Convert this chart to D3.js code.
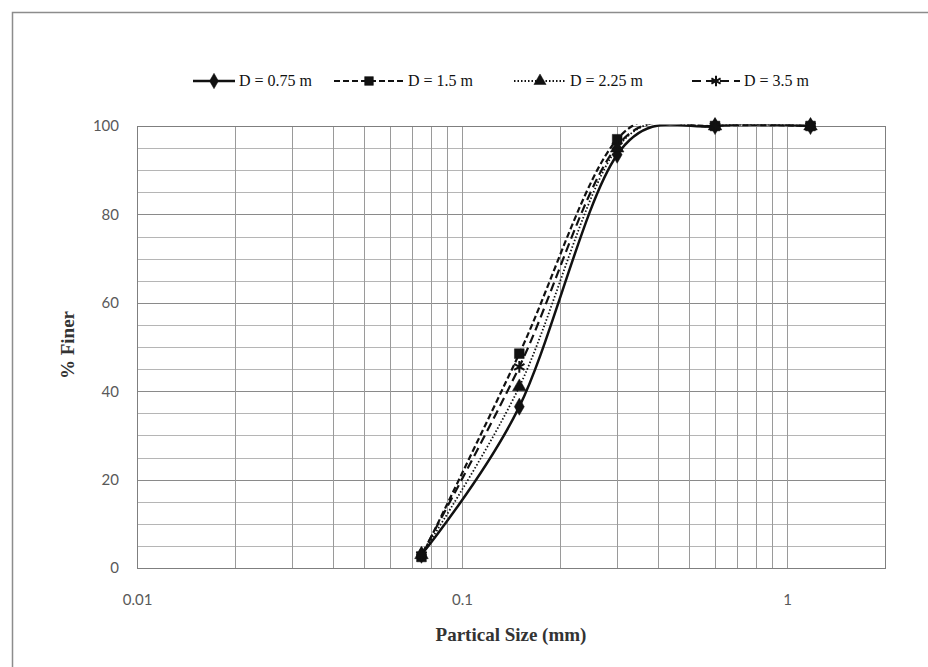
<!DOCTYPE html>
<html>
<head>
<meta charset="utf-8">
<script src="https://cdn.jsdelivr.net/npm/d3@7"></script>
<style>
  body { margin: 0; background: #fff; }
  svg { display: block; }
</style>
</head>
<body>
<svg id="chart" width="928" height="667"></svg>
<script>
// sieve sizes (mm) and % finer for each depth
const sizes = [0.075, 0.15, 0.3, 0.6, 1.18];
const seriesNames = ["D = 0.75 m", "D = 1.5 m", "D = 2.25 m", "D = 3.5 m"];
const finer075 = [3, 36.5, 93.5, 100, 100];
const finer150 = [2.5, 48.5, 97, 100, 100];
const finer225 = [3, 41, 95, 100, 100];
const finer350 = [3, 45.5, 95.5, 100, 100];
const xTicks = [0.01, 0.1, 1];
const yTicks = [0, 20, 40, 60, 80, 100];

const svg = d3.select("#chart");
const margin = {left: 137, right: 43, top: 126, bottom: 99};
const W = 928, H = 667;

const x = d3.scaleLog().domain([0.01, 2]).range([margin.left, W - margin.right]);
const y = d3.scaleLinear().domain([0, 100]).range([H - margin.bottom, margin.top]);

// outer chart border
svg.append("rect")
    .attr("x", 12.5).attr("y", 12.5)
    .attr("width", W).attr("height", H)
    .attr("fill", "none").attr("stroke", "#8c8c8c").attr("stroke-width", 1.5);

// clip lines to the plot area like Excel does (a little slack at the top)
svg.append("clipPath").attr("id", "plotClip")
    .append("rect")
    .attr("x", x.range()[0]).attr("y", y.range()[1] - 1.5)
    .attr("width", x.range()[1] - x.range()[0])
    .attr("height", y.range()[0] - y.range()[1] + 1.5);

const grid = svg.append("g");

// horizontal gridlines every 5, darker at the labelled ticks
d3.range(5, 100, 5).forEach(v => {
    grid.append("line")
        .attr("x1", x.range()[0]).attr("x2", x.range()[1])
        .attr("y1", Math.round(y(v)) + 0.5).attr("y2", Math.round(y(v)) + 0.5)
        .attr("stroke", v % 20 === 0 ? "#8a8a8a" : "#b5b5b5")
        .attr("stroke-width", 1);
});

// vertical gridlines at 1..9 of each decade
const vLines = [];
[0.01, 0.1, 1].forEach(dec => {
    for (let k = 1; k <= 9; k++) {
        const v = dec * k;
        if (v > 0.01 && v < 2) vLines.push(v);
    }
});
vLines.forEach(v => {
    grid.append("line")
        .attr("x1", Math.round(x(v)) + 0.5).attr("x2", Math.round(x(v)) + 0.5)
        .attr("y1", y.range()[1]).attr("y2", y.range()[0])
        .attr("stroke", "#9a9a9a")
        .attr("stroke-width", 1);
});

// plot border
svg.append("rect")
    .attr("x", x.range()[0] + 0.5).attr("y", y.range()[1] + 0.5)
    .attr("width", x.range()[1] - x.range()[0])
    .attr("height", y.range()[0] - y.range()[1])
    .attr("fill", "none").attr("stroke", "#7f7f7f").attr("stroke-width", 1);

// axes labels (no axis lines, Excel style)
const yAxis = svg.append("g")
    .attr("transform", `translate(${margin.left - 18},0)`)
    .call(d3.axisLeft(y).tickValues(yTicks).tickSize(0).tickPadding(0));
yAxis.select(".domain").remove();
yAxis.selectAll("text")
    .attr("font-family", "Lato, 'Open Sans', sans-serif")
    .attr("font-size", 15).attr("fill", "#595959");

const xAxis = svg.append("g")
    .attr("transform", `translate(0,${H - margin.bottom + 26})`)
    .call(d3.axisBottom(x).tickValues(xTicks).tickFormat(d3.format("~g")).tickSize(0).tickPadding(0));
xAxis.select(".domain").remove();
xAxis.selectAll("text")
    .attr("font-family", "Lato, 'Open Sans', sans-serif")
    .attr("font-size", 15).attr("fill", "#595959");

svg.append("text")
    .attr("transform", "translate(74,345) rotate(-90)")
    .attr("text-anchor", "middle")
    .attr("font-family", "'Liberation Serif', 'DejaVu Serif', serif")
    .attr("font-weight", "bold").attr("font-size", 19).attr("fill", "#333")
    .text("% Finer");

svg.append("text")
    .attr("x", 511).attr("y", 641)
    .attr("text-anchor", "middle")
    .attr("font-family", "'Liberation Serif', 'DejaVu Serif', serif")
    .attr("font-weight", "bold").attr("font-size", 19).attr("fill", "#333")
    .text("Partical Size (mm)");

// series styling
const allSeries = [finer075, finer150, finer225, finer350];
const dashes = [null, "6,3", "1.5,2", "9,5"];
const widths = [2.5, 2.2, 1.8, 2.2];
const markers = [d3.symbolDiamond, d3.symbolSquare, d3.symbolTriangle, d3.symbolAsterisk];
const markerSize = [85, 95, 80, 100];

// Excel-style smoothing (uniform Catmull-Rom)
const line = d3.line()
    .x(d => x(d[0]))
    .y(d => y(d[1]))
    .curve(d3.curveCatmullRom.alpha(0));

const plot = svg.append("g");
const lines = plot.append("g").attr("clip-path", "url(#plotClip)");
allSeries.forEach((vals, i) => {
    const pts = sizes.map((s, j) => [s, vals[j]]);
    lines.append("path")
        .datum(pts)
        .attr("d", line)
        .attr("fill", "none")
        .attr("stroke", "#111")
        .attr("stroke-width", widths[i])
        .attr("stroke-dasharray", dashes[i]);
});
allSeries.forEach((vals, i) => {
    plot.selectAll(".m" + i)
        .data(sizes.map((s, j) => [s, vals[j]]))
        .enter()
        .append("path")
        .attr("transform", d => `translate(${x(d[0])},${y(d[1])})`)
        .attr("d", d3.symbol().type(markers[i]).size(markerSize[i]))
        .attr("fill", "#111")
        .attr("stroke", "#111")
        .attr("stroke-width", i === 3 ? 2 : 0.5);
});

// legend
const legendX = [193, 334, 514, 692];
const legendLen = [42, 70, 52, 48];
const legend = svg.append("g");
seriesNames.forEach((name, i) => {
    const lx = legendX[i], ly = 81;
    legend.append("line")
        .attr("x1", lx).attr("x2", lx + legendLen[i])
        .attr("y1", ly).attr("y2", ly)
        .attr("stroke", "#111")
        .attr("stroke-width", widths[i])
        .attr("stroke-dasharray", dashes[i]);
    legend.append("path")
        .attr("transform", `translate(${lx + legendLen[i] / 2},${ly})`)
        .attr("d", d3.symbol().type(markers[i]).size(markerSize[i] * 0.8))
        .attr("fill", "#111")
        .attr("stroke", "#111")
        .attr("stroke-width", i === 3 ? 2 : 0.5);
    legend.append("text")
        .attr("x", lx + legendLen[i] + 4).attr("y", ly + 5)
        .attr("font-family", "'Liberation Serif', 'DejaVu Serif', serif")
        .attr("font-size", 16).attr("fill", "#111")
        .text(name);
});
</script>
</body>
</html>
